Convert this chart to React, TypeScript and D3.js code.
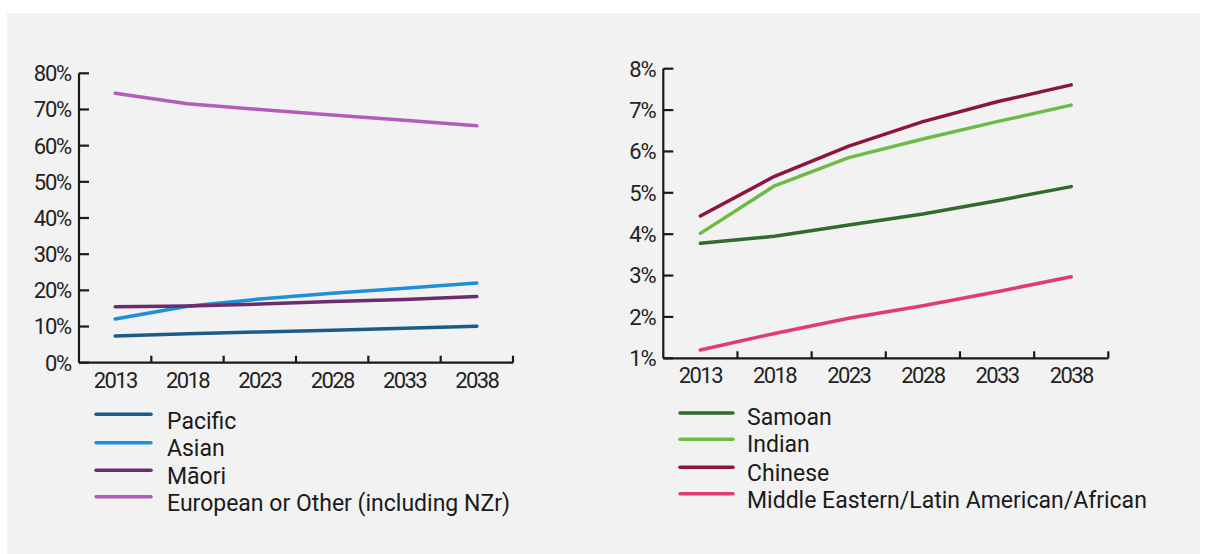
import React from "react";
import * as d3 from "d3";

const years = ["2013", "2018", "2023", "2028", "2033", "2038"];

const leftSeriesNames = ["Pacific", "Asian", "Māori", "European or Other (including NZr)"];
const pacific = [7.4, 8.0, 8.5, 9.0, 9.5, 10.1];
const asian = [12.1, 15.6, 17.6, 19.2, 20.6, 22.0];
const maori = [15.5, 15.7, 16.2, 16.9, 17.5, 18.3];
const european = [74.5, 71.6, 70.0, 68.5, 67.0, 65.5];
const leftColors = ["#1b5b88", "#1e8fd8", "#6d2c6e", "#b25db8"];
const leftTicks = [0, 10, 20, 30, 40, 50, 60, 70, 80];

const rightSeriesNames = ["Samoan", "Indian", "Chinese", "Middle Eastern/Latin American/African"];
const samoan = [3.78, 3.95, 4.22, 4.49, 4.81, 5.15];
const indian = [4.02, 5.17, 5.85, 6.3, 6.72, 7.12];
const chinese = [4.44, 5.4, 6.13, 6.72, 7.2, 7.61];
const middleEastern = [1.2, 1.6, 1.97, 2.27, 2.61, 2.97];
const rightColors = ["#2f6b2b", "#6dbb45", "#8c1441", "#e3397a"];
const rightTicks = [1, 2, 3, 4, 5, 6, 7, 8];

const FONT = "Roboto, 'Open Sans', sans-serif";

type PanelProps = {
  x0: number;
  x1: number;
  yTop: number;
  yBottom: number;
  domain: [number, number];
  ticks: number[];
  series: number[][];
  colors: string[];
  names: string[];
  legendLineX: [number, number];
  legendTextX: number;
  legendLineY: number[];
  legendBaseline: number[];
};

function Panel(p: PanelProps) {
  const x = d3.scaleBand<string>().domain(years).range([p.x0, p.x1]).padding(0);
  const y = d3.scaleLinear().domain(p.domain).range([p.yBottom, p.yTop]);
  const line = d3
    .line<number>()
    .x((_, i) => (x(years[i]) as number) + x.bandwidth() / 2)
    .y((d) => y(d))
    .curve(d3.curveLinear);
  const axisColor = "#1a1a1a";
  return (
    <g>
      <line x1={p.x0} x2={p.x0} y1={p.yTop} y2={p.yBottom} stroke={axisColor} strokeWidth={2.2} />
      {p.ticks.map((t) => (
        <g key={"yt" + t}>
          <line x1={p.x0} x2={p.x0 + 10} y1={y(t)} y2={y(t)} stroke={axisColor} strokeWidth={2.2} />
          <text
            x={p.x0 - 8}
            y={y(t)}
            dy="0.36em"
            textAnchor="end"
            fontFamily={FONT}
            fontSize={22}
            letterSpacing={-1.2}
            fill="#222"
          >
            {t}%
          </text>
        </g>
      ))}
      <line x1={p.x0} x2={p.x1} y1={p.yBottom} y2={p.yBottom} stroke={axisColor} strokeWidth={2.2} />
      {years.map((yr) => (
        <g key={"xt" + yr}>
          <line
            x1={(x(yr) as number) + x.bandwidth()}
            x2={(x(yr) as number) + x.bandwidth()}
            y1={p.yBottom}
            y2={p.yBottom - 7}
            stroke={axisColor}
            strokeWidth={2.2}
          />
          <text
            x={(x(yr) as number) + x.bandwidth() / 2}
            y={p.yBottom + 17}
            dy="0.36em"
            textAnchor="middle"
            fontFamily={FONT}
            fontSize={22}
            letterSpacing={-1.6}
            fill="#222"
          >
            {yr}
          </text>
        </g>
      ))}
      {p.series.map((s, i) => (
        <path
          key={"s" + i}
          d={line(s) as string}
          fill="none"
          stroke={p.colors[i]}
          strokeWidth={3.5}
          strokeLinecap="round"
          strokeLinejoin="round"
        />
      ))}
      {p.names.map((n, i) => (
        <g key={"lg" + i}>
          <line
            x1={p.legendLineX[0]}
            x2={p.legendLineX[1]}
            y1={p.legendLineY[i]}
            y2={p.legendLineY[i]}
            stroke={p.colors[i]}
            strokeWidth={3.5}
            strokeLinecap="round"
          />
          <text
            x={p.legendTextX}
            y={p.legendBaseline[i]}
            fontFamily={FONT}
            fontSize={23}
            fill="#1a1a1a"
          >
            {n}
          </text>
        </g>
      ))}
    </g>
  );
}

export default function App() {
  return (
    <svg
      width={1205}
      height={554}
      style={{ position: "absolute", left: 0, top: 0, display: "block" }}
    >
      <rect x={0} y={0} width={1205} height={554} fill="#ffffff" />
      <rect x={7} y={13} width={1193} height={541} fill="#f2f2f2" />
      <Panel
        x0={79}
        x1={513}
        yTop={73.3}
        yBottom={362.7}
        domain={[0, 80]}
        ticks={leftTicks}
        series={[pacific, asian, maori, european]}
        colors={leftColors}
        names={leftSeriesNames}
        legendLineX={[96, 151]}
        legendTextX={167}
        legendLineY={[414.3, 442.7, 470.3, 496.8]}
        legendBaseline={[429, 455.7, 484, 510.7]}
      />
      <Panel
        x0={663.3}
        x1={1108.3}
        yTop={68.7}
        yBottom={358.3}
        domain={[1, 8]}
        ticks={rightTicks}
        series={[samoan, indian, chinese, middleEastern]}
        colors={rightColors}
        names={rightSeriesNames}
        legendLineX={[680, 733]}
        legendTextX={747}
        legendLineY={[413, 439.3, 467.3, 493.7]}
        legendBaseline={[425, 451.7, 480.7, 508.3]}
      />
    </svg>
  );
}
